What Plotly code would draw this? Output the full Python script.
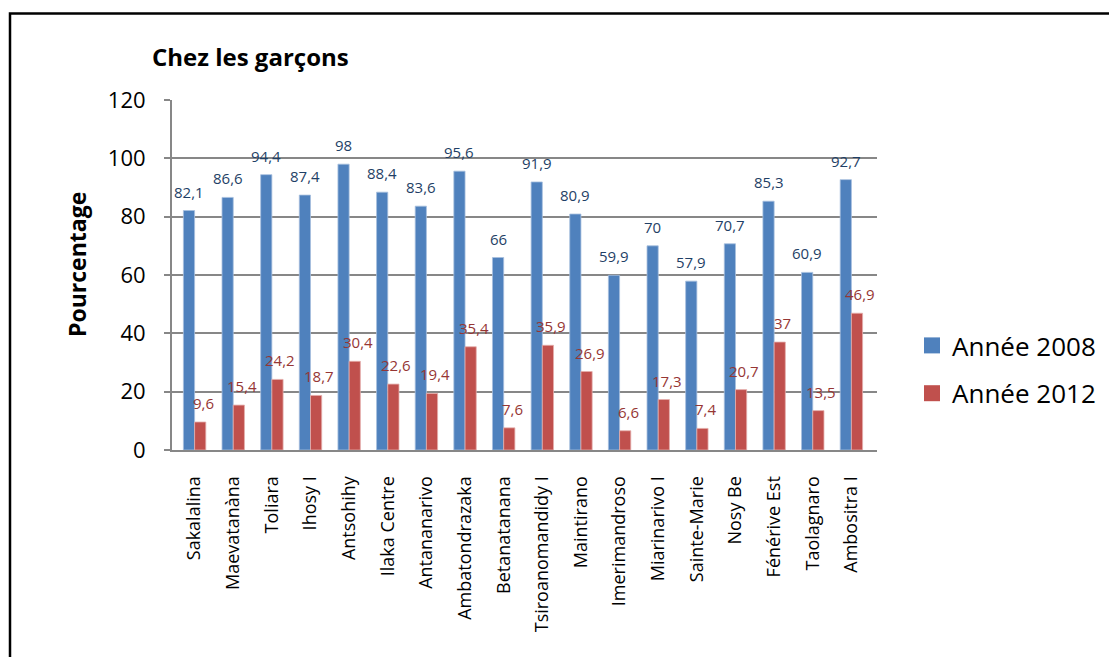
import plotly.graph_objects as go

categories = ["Sakalalina", "Maevatanàna", "Toliara", "Ihosy I", "Antsohihy",
              "Ilaka Centre", "Antananarivo", "Ambatondrazaka", "Betanatanana",
              "Tsiroanomandidy I", "Maintirano", "Imerimandroso", "Miarinarivo I",
              "Sainte-Marie", "Nosy Be", "Fénérive Est", "Taolagnaro", "Ambositra I"]
annee_2008 = [82.1, 86.6, 94.4, 87.4, 98, 88.4, 83.6, 95.6, 66, 91.9, 80.9,
              59.9, 70, 57.9, 70.7, 85.3, 60.9, 92.7]
annee_2012 = [9.6, 15.4, 24.2, 18.7, 30.4, 22.6, 19.4, 35.4, 7.6, 35.9, 26.9,
              6.6, 17.3, 7.4, 20.7, 37, 13.5, 46.9]
series_names = ["Année 2008", "Année 2012"]
y_ticks = [0, 20, 40, 60, 80, 100, 120]

BLUE = "#4F81BD"
RED = "#C0504D"
BLUE_TXT = "#1F3F66"
RED_TXT = "#963634"
GRID = "#878787"
FONT = "Open Sans"

OFF = 8  # page body margin: screen = figure + OFF
W, H = 1117, 657
L = 172 - OFF
T = 100 - OFF
R = W - (877 - OFF)
B = H - (450 - OFF)
PW, PH = W - L - R, H - T - B


def px_x(p):  # screen pixel -> paper x
    return (p - OFF - L) / PW


def px_y(p):  # screen pixel -> paper y
    return (H - B - (p - OFF)) / PH


def fmt(v):
    return f"{v:g}".replace(".", ",")


BARGAP = 0.42
half = (1 - BARGAP) / 4  # centre offset of each bar within its group

fig = go.Figure()
fig.add_trace(go.Bar(x=categories, y=annee_2008, name=series_names[0],
                     marker=dict(color=BLUE, line=dict(color="#A7BFDE", width=0.8)),
                     showlegend=False))
fig.add_trace(go.Bar(x=categories, y=annee_2012, name=series_names[1],
                     marker=dict(color=RED, line=dict(color="#E4AEAC", width=0.8)),
                     showlegend=False))

# legend entries with larger square swatches
for name, col, grp in [(series_names[0], BLUE, "a"), (series_names[1], RED, "b")]:
    fig.add_trace(go.Scatter(x=[None], y=[None], mode="markers", name=name,
                             legendgroup=grp,
                             marker=dict(symbol="square", size=16, color=col)))

annotations = []
for i, v in enumerate(annee_2008):
    annotations.append(dict(x=i - half, y=v, xref="x", yref="y", text=fmt(v),
                            showarrow=False, yshift=19, yanchor="middle",
                            font=dict(family=FONT, size=15, color=BLUE_TXT)))
for i, v in enumerate(annee_2012):
    annotations.append(dict(x=i + half, y=v, xref="x", yref="y", text=fmt(v),
                            showarrow=False, yshift=19, xshift=3, yanchor="middle",
                            font=dict(family=FONT, size=15, color=RED_TXT)))

annotations.append(dict(x=px_x(150), y=px_y(56), xref="paper", yref="paper",
                        text="<b>Chez les garçons</b>", showarrow=False,
                        xanchor="left", yanchor="middle",
                        font=dict(family=FONT, size=24, color="black")))
annotations.append(dict(x=px_x(77), y=px_y(265), xref="paper", yref="paper",
                        text="<b>Pourcentage</b>", showarrow=False, textangle=-90,
                        xanchor="center", yanchor="middle",
                        font=dict(family=FONT, size=23, color="black")))

fig.update_layout(
    width=W, height=H,
    margin=dict(l=L, r=R, t=T, b=B, autoexpand=False),
    paper_bgcolor="white", plot_bgcolor="white",
    barmode="group", bargap=BARGAP, bargroupgap=0,
    font=dict(family=FONT, color="black"),
    annotations=annotations,
    legend=dict(x=px_x(912), y=px_y(322), xanchor="left", yanchor="top",
                font=dict(family=FONT, size=26, color="black"),
                tracegroupgap=11, bgcolor="rgba(0,0,0,0)"),
    shapes=[dict(type="rect", xref="paper", yref="paper",
                 x0=px_x(10), x1=px_x(1135), y0=px_y(690), y1=px_y(13.5),
                 line=dict(color="black", width=2.5), fillcolor="rgba(0,0,0,0)",
                 layer="below")],
)

fig.update_xaxes(type="category", tickangle=-90, showgrid=False,
                 showline=True, linecolor=GRID, linewidth=2,
                 ticks="", ticklabelstandoff=17,
                 tickfont=dict(family=FONT, size=18, color="black"))
fig.update_yaxes(range=[0, 120], tickvals=y_ticks, showgrid=True,
                 gridcolor=GRID, gridwidth=2, showline=True, linecolor=GRID,
                 linewidth=2, ticks="outside", ticklen=6, tickcolor=GRID,
                 tickwidth=2, ticklabelstandoff=14, zeroline=False,
                 tickfont=dict(family=FONT, size=22, color="black"))

fig.write_html("out.html")
